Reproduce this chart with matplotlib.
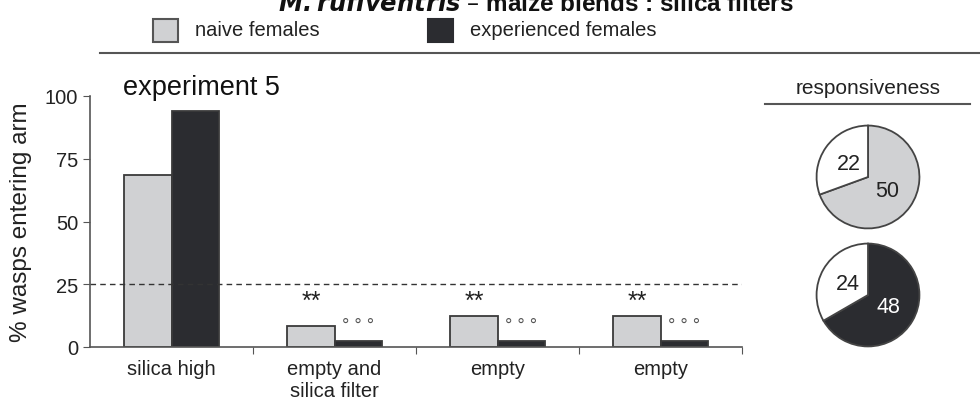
import matplotlib
matplotlib.use('Agg')
import matplotlib.pyplot as plt
import numpy as np

plt.rcParams['font.family'] = ['Liberation Sans', 'DejaVu Sans']

# data
categories = ['silica high', 'empty and\nsilica filter', 'empty', 'empty']
naive = [68.5, 8.5, 12.5, 12.5]
experienced = [94, 2.5, 2.5, 2.5]
naive_marks = ['', '**', '**', '**']
exp_marks = ['', '° ° °', '° ° °', '° ° °']
resp_naive = [50, 22]
resp_exp = [48, 24]

light = '#d0d1d3'
dark = '#2b2c30'
edge = '#3a3a3a'

fig = plt.figure(figsize=(9.8, 4.02), dpi=100)

# main bar chart
ax = fig.add_axes([90 / 980, 1 - 348 / 402, (742 - 90) / 980, (348 - 97) / 402])
x = np.arange(len(categories)) + 0.5
w = 0.29
ax.bar(x - w / 2, naive, w, color=light, edgecolor=edge, linewidth=1.3)
ax.bar(x + w / 2, experienced, w, color=dark, edgecolor=edge, linewidth=1.3)
ax.axhline(25, color='#333333', linestyle=(0, (4, 3)), linewidth=1)

# significance marks sit at fixed heights
for i in range(len(categories)):
    if naive_marks[i]:
        ax.text(x[i] - w / 2, 18.5, naive_marks[i], ha='center',
                va='center', fontsize=18, color='#222222')
    if exp_marks[i]:
        ax.text(x[i] + w / 2, 8.5, exp_marks[i], ha='center',
                va='center', fontsize=13, color='#555555')

ax.set_xlim(0, 4)
ax.set_ylim(0, 100)
ax.set_yticks([0, 25, 50, 75, 100])
ax.set_xticks([1, 2, 3, 4])
ax.set_xticklabels([])
ax.set_xticks(x, minor=True)
ax.set_xticklabels(categories, minor=True, fontsize=14.5, color='#222222')
ax.tick_params(axis='x', which='minor', length=0, pad=9)
ax.tick_params(axis='x', which='major', length=5, direction='out', color='#555555')
ax.tick_params(axis='y', length=5, direction='out', color='#555555',
               labelsize=14.5, labelcolor='#222222')
for s in ['top', 'right']:
    ax.spines[s].set_visible(False)
for s in ['left', 'bottom']:
    ax.spines[s].set_color('#555555')
    ax.spines[s].set_linewidth(1.2)
ax.set_ylabel('% wasps entering arm', fontsize=17.5, color='#222222', labelpad=9)
ax.text(0.2, 98.5, 'experiment 5', fontsize=19.5, color='#111111', va='bottom')

# title (cut off at the top as in the original)
fig.text(536 / 980, 1 - 11 / 402, r'$\mathbfit{M. rufiventris}$ – maize blends : silica filters',
         ha='center', va='baseline', fontsize=17.5, fontweight='bold', color='#111111')

# legend
lax = fig.add_axes([0, 0, 1, 1])
lax.set_xlim(0, 980)
lax.set_ylim(402, 0)
lax.axis('off')
lax.add_patch(plt.Rectangle((153, 20), 25, 23, facecolor=light, edgecolor='#555555', lw=1.5))
lax.add_patch(plt.Rectangle((428, 20), 25, 23, facecolor=dark, edgecolor=dark, lw=1.5))
lax.text(195, 31, 'naive females', fontsize=14.5, va='center', color='#222222')
lax.text(470, 31, 'experienced females', fontsize=14.5, va='center', color='#222222')
lax.plot([100, 980], [54, 54], color='#555555', lw=1.5)
lax.text(868, 88, 'responsiveness', fontsize=15, ha='center', va='center', color='#222222')
lax.plot([765, 970], [105, 105], color='#555555', lw=1.5)

# responsiveness pies
for cy, vals, col, tcol in [(178, resp_naive, light, '#222222'), (296, resp_exp, dark, 'white')]:
    pax = fig.add_axes([(868 - 54) / 980, 1 - (cy + 54) / 402, 108 / 980, 108 / 402])
    wedges, texts = pax.pie(vals, colors=[col, 'white'], startangle=90, counterclock=False,
                            labels=[str(v) for v in vals], labeldistance=0.45,
                            wedgeprops=dict(edgecolor='#444444', linewidth=1.3))
    texts[0].set_color(tcol)
    texts[1].set_color('#222222')
    for t in texts:
        t.set_fontsize(15.5)
        t.set_ha('center')
        t.set_va('center')
    pax.set_xlim(-1.05, 1.05)
    pax.set_ylim(-1.05, 1.05)
    pax.set_aspect('equal')

fig.savefig('out.png', dpi=100)
